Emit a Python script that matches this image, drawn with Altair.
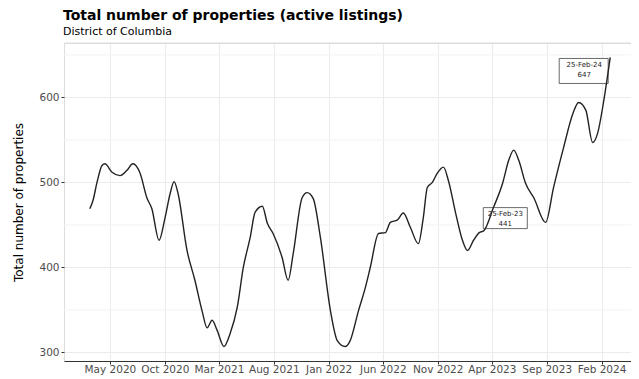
import altair as alt
import pandas as pd

# --- data ---
dates = [
    "2020-03-06", "2020-03-15", "2020-03-26", "2020-04-09", "2020-04-17", "2020-05-07",
    "2020-05-29", "2020-06-17", "2020-07-04", "2020-07-24", "2020-08-12", "2020-08-26",
    "2020-09-15", "2020-10-02", "2020-10-16", "2020-10-27", "2020-11-07", "2020-12-02",
    "2020-12-24", "2021-01-13", "2021-01-27", "2021-02-10", "2021-02-24", "2021-03-15",
    "2021-04-01", "2021-04-21", "2021-05-08", "2021-05-27", "2021-06-10", "2021-06-30",
    "2021-07-14", "2021-07-30", "2021-08-24", "2021-09-10", "2021-09-24", "2021-10-19",
    "2021-11-02", "2021-11-19", "2021-12-09", "2022-01-06", "2022-01-25", "2022-02-16",
    "2022-03-02", "2022-03-25", "2022-04-13", "2022-04-27", "2022-05-20", "2022-06-08",
    "2022-06-22", "2022-07-12", "2022-07-28", "2022-08-17", "2022-09-08", "2022-09-22",
    "2022-10-03", "2022-10-17", "2022-10-31", "2022-11-17", "2022-12-01", "2022-12-21",
    "2023-01-09", "2023-01-23", "2023-02-09", "2023-02-25", "2023-03-09", "2023-04-06",
    "2023-05-01", "2023-05-18", "2023-06-01", "2023-06-15", "2023-07-04", "2023-07-27",
    "2023-08-29", "2023-09-20", "2023-10-18", "2023-11-13", "2023-11-29", "2023-12-19",
    "2024-01-07", "2024-01-21", "2024-02-07", "2024-02-25",
]
values = [
    469, 479, 500, 520, 522, 512,
    508, 514, 522, 511, 482, 469,
    432, 459, 487, 501, 487, 420,
    385, 349, 329, 338, 326, 307,
    322, 353, 400, 435, 465, 472,
    452, 440, 412, 385, 416, 482,
    488, 481, 435, 349, 314, 307,
    314, 349, 376, 400, 440, 441,
    453, 456, 464, 447, 428, 459,
    494, 500, 511, 518, 502, 464,
    432, 420, 432, 441, 443, 471,
    499, 526, 538, 526, 499, 482,
    453, 494, 541, 581, 594, 585,
    547, 558, 596, 647,
]

tick_years = [2020, 2020, 2021, 2021, 2022, 2022, 2022, 2023, 2023, 2024]
tick_months = [5, 10, 3, 8, 1, 6, 11, 4, 9, 2]
y_major = [300, 400, 500, 600]
y_minor = [350, 450, 550, 650]

ann_dates = ["2023-02-25", "2024-02-25"]
ann_values = [441, 647]
ann_labels = ["25-Feb-23", "25-Feb-24"]

FONT = "DejaVu Sans"
W = 567
H = 318

df = pd.DataFrame({"date": dates, "value": values})
minor_df = pd.DataFrame({"value": y_minor})
ann_df = pd.DataFrame({"date": ann_dates, "value": ann_values,
                       "label": ann_labels, "num": [str(v) for v in ann_values]})
ann_old = ann_df.iloc[[0]]
ann_new = ann_df.iloc[[1]]

x_scale = alt.Scale(
    type="utc", padding=0,
    domain=[alt.DateTime(year=2019, month=12, date=25, utc=True),
            alt.DateTime(year=2024, month=4, date=23, utc=True)],
)
y_scale = alt.Scale(domain=[290, 664], nice=False, zero=False, padding=0)

tick_vals = [alt.DateTime(year=y, month=m, date=1, utc=True)
             for y, m in zip(tick_years, tick_months)]

x_axis = alt.Axis(values=tick_vals, format="%b %Y", labelFont=FONT, labelFontSize=10.5,
                  labelColor="#4d4d4d", domain=True, domainColor="#333333",
                  tickColor="#333333", tickSize=3, labelPadding=0,
                  grid=True, gridColor="#ebebeb", labelOverlap=False)
y_axis = alt.Axis(values=y_major, labelFont=FONT, labelFontSize=10.5, labelColor="#4d4d4d",
                  domain=False, tickColor="#333333", tickSize=3, labelPadding=2,
                  grid=True, gridColor="#ebebeb", titleFont=FONT, titleFontSize=12,
                  titleFontWeight="normal", titleColor="#000000", titleX=-39, titleY=159)

x_enc = alt.X("date:T", scale=x_scale, title=None, axis=x_axis)
y_enc = alt.Y("value:Q", scale=y_scale, title="Total number of properties", axis=y_axis)

minor = alt.Chart(minor_df).mark_rule(color="#f2f2f2", strokeWidth=1).encode(y=y_enc)

top_line = alt.Chart(pd.DataFrame({"a": [0]})).mark_rule(color="#dddddd").encode(
    x=alt.value(0), x2=alt.value(W), y=alt.value(0)
)

line = alt.Chart(df).mark_line(color="#222222", strokeWidth=1.4, interpolate="monotone").encode(
    x=x_enc, y=y_enc
)

box_new = alt.Chart(ann_new).mark_rect(
    fill="white", stroke="#444444", strokeWidth=0.8,
    xOffset=-51, x2Offset=-2, yOffset=1, y2Offset=26,
).encode(x=x_enc, x2=alt.X2("date"), y=y_enc, y2=alt.Y2("value"))
box_old = alt.Chart(ann_old).mark_rect(
    fill="white", stroke="#444444", strokeWidth=0.8,
    xOffset=4, x2Offset=48, yOffset=-25, y2Offset=-4,
).encode(x=x_enc, x2=alt.X2("date"), y=y_enc, y2=alt.Y2("value"))


def txt(data, field, dx, dy):
    return alt.Chart(data).mark_text(font=FONT, fontSize=7, color="#222222",
                                     dx=dx, dy=dy, align="center", baseline="middle").encode(
        x=x_enc, y=y_enc, text=alt.Text(f"{field}:N"),
    )


texts = (txt(ann_new, "label", -26, 8) + txt(ann_new, "num", -26, 18)
         + txt(ann_old, "label", 26, -19) + txt(ann_old, "num", 26, -9))

chart = alt.layer(minor, top_line, box_old, box_new, line, texts).properties(
    width=W, height=H,
    padding={"left": 56, "top": 35, "right": 0, "bottom": 16},
    autosize=alt.AutoSizeParams(type="none"),
    title=alt.Title(
        text="Total number of properties (active listings)",
        subtitle="District of Columbia",
        anchor="start", frame="group", dx=-1, offset=6,
        font=FONT, fontSize=14, fontWeight="bold", color="#000000",
        subtitleFont=FONT, subtitleFontSize=11, subtitleColor="#000000", subtitlePadding=3,
    ),
).configure_view(stroke=None).configure(background="white")

chart.save("out.html", embed_options={"renderer": "svg", "actions": False})
